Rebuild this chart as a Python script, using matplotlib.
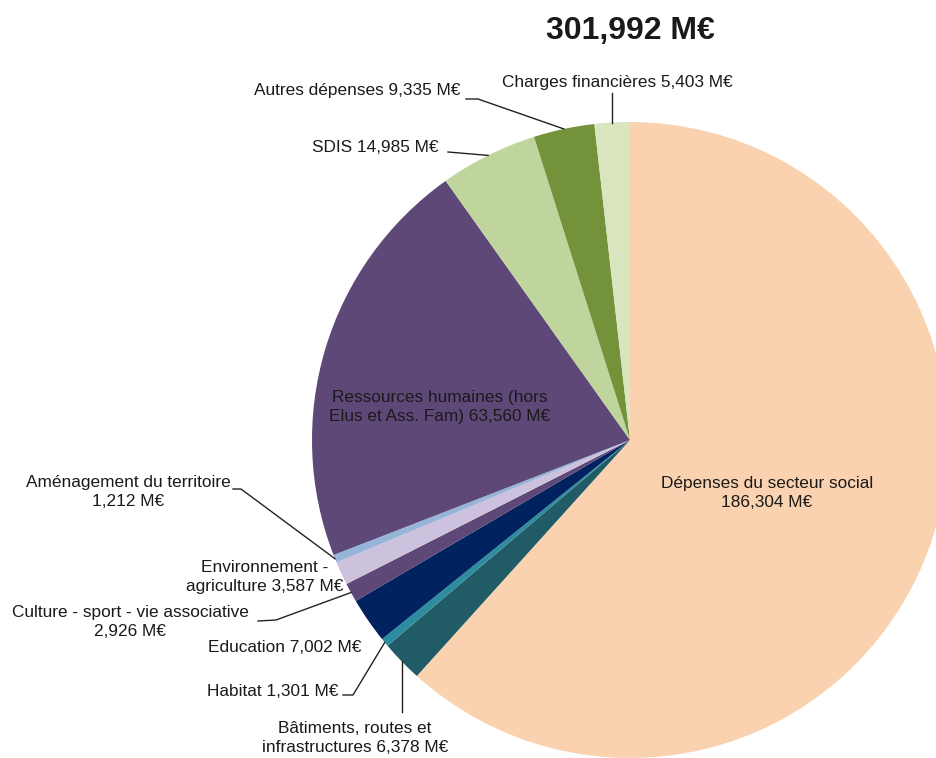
import numpy as np
import matplotlib
matplotlib.use("Agg")
import matplotlib.pyplot as plt

W, H = 937, 758

total_label = "301,992 M€"
labels = [
    "Dépenses du secteur social\n186,304 M€",
    "Bâtiments, routes et\ninfrastructures 6,378 M€",
    "Habitat 1,301 M€",
    "Education 7,002 M€",
    "Culture - sport - vie associative\n2,926 M€",
    "Environnement -\nagriculture 3,587 M€",
    "Aménagement du territoire\n1,212 M€",
    "Ressources humaines (hors\nElus et Ass. Fam) 63,560 M€",
    "SDIS 14,985 M€",
    "Autres dépenses 9,335 M€",
    "Charges financières 5,403 M€",
]
values = [186.304, 6.378, 1.301, 7.002, 2.926, 3.587, 1.212, 63.560, 14.985, 9.335, 5.403]
colors = ["#FAD2B0", "#215B66", "#2E8CA0", "#00235F", "#5E4878", "#CDC2DE",
          "#97B4D9", "#5E4878", "#C0D59E", "#74923A", "#D8E5BE"]

# label placement in pixels from top-left (x, y), and leader line start (None = no line)
label_pos = [(767, 493), (355, 738), (273, 691), (285, 647), (130, 622), (265, 577),
             (128, 492), (440, 407), (375, 148), (357, 91), (617, 82)]
leaders = [None, "vup", [(343, 695), (353, 695)], None, [(258, 621), (276, 620)], None,
           [(233, 489), (241, 489)], None, [(448, 152)], [(466, 99), (478, 99)], "vdown"]

cx, cy, r = 630, 440, 318


def fy(y):
    return H - y


fig = plt.figure(figsize=(W / 100, H / 100), dpi=100)
ax = fig.add_axes([0, 0, 1, 1])
wedges, _ = ax.pie(values, colors=colors, startangle=90, counterclock=False,
                   center=(cx, fy(cy)), radius=r, wedgeprops=dict(linewidth=0))
ax.set_xlim(0, W)
ax.set_ylim(0, H)
ax.set_aspect("equal")
ax.axis("off")

for w, lab, (lx, ly), lead in zip(wedges, labels, label_pos, leaders):
    ax.text(lx, fy(ly), lab, ha="center", va="center", fontsize=12.4,
            family="Liberation Sans", color="#1a1a1a", linespacing=1.3)
    if lead is None:
        continue
    mid = np.deg2rad((w.theta1 + w.theta2) / 2)
    ex, ey = cx + r * np.cos(mid), fy(cy) + r * np.sin(mid)
    if lead == "vup":
        xs, ys = [ex, ex], [ey, fy(712)]
    elif lead == "vdown":
        xs, ys = [ex, ex], [ey, fy(93)]
    else:
        xs = [p[0] for p in lead] + [ex]
        ys = [fy(p[1]) for p in lead] + [ey]
    ax.plot(xs, ys, color="#222222", lw=1)

ax.text(630, fy(31), total_label, ha="center", va="center", fontsize=23,
        fontweight="bold", family="Liberation Sans", color="#1a1a1a")

fig.savefig("out.png", dpi=100)
